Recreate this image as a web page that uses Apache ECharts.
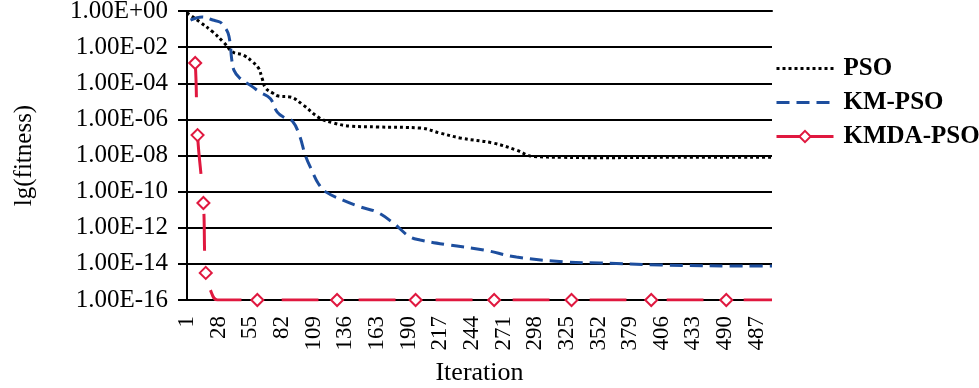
<!DOCTYPE html>
<html>
<head>
<meta charset="utf-8">
<script src="https://cdn.jsdelivr.net/npm/echarts@6/dist/echarts.min.js"></script>
<style>
html,body{margin:0;padding:0;background:#fff;}
#chart{width:979px;height:388px;}
</style>
</head>
<body>
<div id="chart"></div>
<script>
// Iterations 1..500 (category axis)
const categories = Array.from({length: 500}, (_, i) => String(i + 1));
// Tick labels shown every 27 iterations (as printed in the original, including "490")
const tickLabels = ['1','28','55','82','109','136','163','190','217','244','271','298','325','352','379','406','433','490','487'];

// PSO: iteration index (0-based) and lg(fitness)
const psoIdx = [0, 11, 22, 31, 39, 48, 56, 61, 64, 67, 73, 78, 88, 99, 113, 125, 139, 162, 199, 216, 233, 261, 281, 295, 320, 352, 420, 499];
const psoLg  = [-0.1, -0.61, -1.16, -1.72, -2.27, -2.44, -2.82, -3.16, -3.71, -4.26, -4.54, -4.71, -4.76, -5.2, -5.92, -6.2, -6.37, -6.42, -6.48, -6.76, -7.03, -7.31, -7.7, -8.05, -8.1, -8.12, -8.1, -8.1];

// KM-PSO
const kmIdx = [3, 13, 22, 28, 31, 35, 37, 38, 40, 45, 56, 62, 71, 77, 83, 90, 96, 101, 107, 112, 118, 133, 148, 162, 176, 190, 199, 224, 253, 281, 324, 352, 404, 486, 499];
const kmLg  = [-0.5, -0.33, -0.5, -0.61, -0.8, -1.22, -1.9, -2.6, -3.27, -3.71, -4.2, -4.49, -4.85, -5.6, -5.9, -6.1, -6.9, -8.0, -8.9, -9.55, -10.0, -10.47, -10.85, -11.13, -11.74, -12.5, -12.68, -12.96, -13.23, -13.62, -13.9, -13.95, -14.06, -14.12, -14.12];

// KMDA-PSO (1 = point drawn with a marker)
const kmdaIdx    = [3, 7, 9, 14, 16, 20, 26, 60, 128, 195, 262, 328, 396, 460, 499];
const kmdaLg     = [-0.8, -2.88, -6.87, -10.63, -14.5, -15.45, -16, -16, -16, -16, -16, -16, -16, -16, -16];
const kmdaMarker = [0, 1, 1, 1, 1, 0, 0, 1, 1, 1, 1, 1, 1, 1, 0];

const FONT = '"Liberation Serif", "Times New Roman", serif';
const RED = '#E0183F';
const BLUE = '#1D4E9E';

function pairs(xs, ys) { return xs.map((x, i) => [x, ys[i]]); }
function fmtY(v) {
  const e = Math.round(-v);
  return e === 0 ? '1.00E+00' : '1.00E-' + (e < 10 ? '0' + e : e);
}

const chart = echarts.init(document.getElementById('chart'), null, {renderer: 'canvas'});
chart.setOption({
  animation: false,
  backgroundColor: '#fff',
  grid: {left: 187, right: 207, top: 11, bottom: 88, containLabel: false, outerBoundsMode: 'none'},
  legend: {
    orient: 'vertical',
    left: 775,
    top: 56,
    padding: 0,
    itemWidth: 57,
    itemHeight: 14,
    itemGap: 9,
    lineStyle: {width: 3},
    textStyle: {fontFamily: FONT, fontSize: 25, fontWeight: 'bold', color: '#000', padding: [0, 0, 0, 5]},
    data: [
      {name: 'PSO', itemStyle: {opacity: 0}},
      {name: 'KM-PSO', itemStyle: {opacity: 0}},
      {name: 'KMDA-PSO', lineStyle: {type: 'solid'}}
    ]
  },
  xAxis: {
    type: 'category',
    data: categories,
    boundaryGap: false,
    name: 'Iteration',
    nameLocation: 'middle',
    nameGap: 60,
    nameTextStyle: {fontFamily: FONT, fontSize: 26, color: '#000'},
    axisLine: {show: true, lineStyle: {color: '#000', width: 2}},
    axisTick: {show: false},
    axisLabel: {
      interval: 26,
      rotate: 90,
      margin: 16,
      fontFamily: FONT,
      fontSize: 23,
      color: '#000',
      formatter: function (val, idx) { return idx % 27 === 0 ? (tickLabels[idx / 27] || '') : ''; }
    },
    splitLine: {show: false}
  },
  yAxis: {
    type: 'value',
    min: -16,
    max: 0,
    interval: 2,
    name: 'lg(fitness)',
    nameLocation: 'middle',
    nameGap: 150,
    nameTextStyle: {fontFamily: FONT, fontSize: 25, color: '#000'},
    axisLine: {show: true, lineStyle: {color: '#000', width: 2}},
    axisTick: {show: true, length: 9, lineStyle: {color: '#000', width: 2}},
    axisLabel: {margin: 19, fontFamily: FONT, fontSize: 25, color: '#000', formatter: fmtY},
    splitLine: {show: true, lineStyle: {color: '#000', width: 2}}
  },
  series: [
    {
      name: 'PSO',
      type: 'line',
      data: pairs(psoIdx, psoLg),
      smooth: 0.4,
      symbol: 'none',
      color: '#000',
      lineStyle: {color: '#000', width: 3, type: [3, 3]},
      z: 3
    },
    {
      name: 'KM-PSO',
      type: 'line',
      data: pairs(kmIdx, kmLg),
      smooth: 0.4,
      symbol: 'none',
      color: BLUE,
      lineStyle: {color: BLUE, width: 3, type: [13, 7]},
      z: 4
    },
    {
      name: 'KMDA-PSO',
      type: 'line',
      data: kmdaIdx.map((x, i) => kmdaMarker[i]
        ? {value: [x, kmdaLg[i]]}
        : {value: [x, kmdaLg[i]], symbol: 'none'}),
      smooth: 0.4,
      symbol: 'emptyDiamond',
      symbolSize: [12, 12],
      showSymbol: true,
      showAllSymbol: true,
      color: RED,
      itemStyle: {color: RED, borderWidth: 2.5},
      lineStyle: {color: RED, width: 3, type: [37, 40], dashOffset: 42},
      z: 5
    }
  ]
});
</script>
</body>
</html>
